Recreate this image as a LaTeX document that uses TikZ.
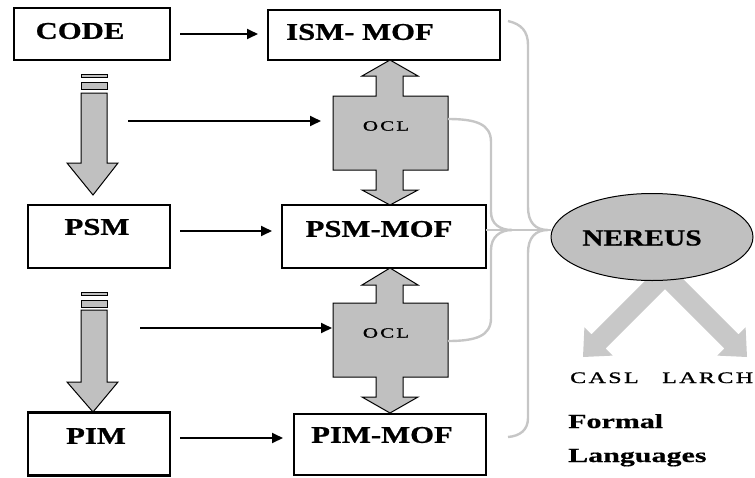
\documentclass[tikz,border=0pt]{standalone}
\usepackage{fontspec}
\setmainfont{Liberation Serif}
\newfontfamily\lblfont[FakeStretch=1.28,FakeBold=0.8]{Liberation Serif}
\newfontfamily\frmfont[FakeStretch=1.5,FakeBold=0.6]{Liberation Serif}
\newfontfamily\smfont[FakeStretch=1.5,LetterSpace=15,FakeBold=1.2]{Liberation Serif}
\usetikzlibrary{arrows.meta,shapes.geometric}
\definecolor{blockgray}{HTML}{C0C0C0}
\definecolor{linegray}{HTML}{C6C6C6}
\definecolor{arrgray}{HTML}{C8C8C8}
\tikzset{
  thickbox/.style={draw=black,line width=2.2pt,minimum width=#1,inner sep=0pt,outer sep=0pt},
  thinbox/.style={draw=black,line width=1.2pt,minimum width=#1,inner sep=0pt,outer sep=0pt},
  lbl/.style={inner sep=0pt,font=\lblfont\bfseries\fontsize{24}{28}\selectfont},
  ocltxt/.style={inner sep=0pt,font=\smfont\fontsize{14}{16}\selectfont},
  smtxt/.style={inner sep=0pt,anchor=base west,font=\smfont\fontsize{16}{18}\selectfont},
  frmtxt/.style={inner sep=0pt,anchor=base west,font=\frmfont\bfseries\fontsize{20}{24}\selectfont},
  blkarrow/.style={-{Triangle[length=11pt,width=10pt]},line width=1.8pt,draw=black},
  graycon/.style={draw=linegray,line width=2.4pt},
  blockshape/.style={fill=blockgray,draw=black,line width=1pt,line join=miter},
  lightarrow/.style={fill=arrgray,draw=none}
}
\begin{document}
\begin{tikzpicture}[x=1pt,y=-1pt]
\useasboundingbox (0,0) rectangle (755,477);

% boxes
\node[thickbox=156pt,minimum height=52pt] (code) at (92,34) {};
\node[thinbox=232pt,minimum height=50pt] (ism) at (384,35) {};
\node[thickbox=142pt,minimum height=63pt] (psm) at (99,236.5) {};
\node[thinbox=204pt,minimum height=63pt] (psmmof) at (384,236.5) {};
\node[thickbox=142pt,minimum height=63pt] (pim) at (99,444) {};
\node[thinbox=192pt,minimum height=61pt] (pimmof) at (390,444.5) {};

\node[lbl] (codetxt) at (80,31) {CODE};
\node[lbl] (ismtxt) at (360,32) {ISM- MOF};
\node[lbl] (psmtxt) at (97,227) {PSM};
\node[lbl] (psmmoftxt) at (379,229) {PSM-MOF};
\node[lbl] (pimtxt) at (96,436) {PIM};
\node[lbl] (pimmoftxt) at (382,435) {PIM-MOF};

% horizontal black arrows
\draw[blkarrow,shorten <=10pt,shorten >=10pt] (code.east) -- (code.east -| ism.west);
\draw[blkarrow,shorten <=10pt,shorten >=10pt] ([yshift=5.5pt]psm.east) -- ([yshift=5.5pt]psm.east -| psmmof.west);
\draw[blkarrow,shorten <=10pt,shorten >=11pt] ([yshift=6pt]pim.east) -- ([yshift=6pt]pim.east -| pimmof.west);

% down block arrows
\draw[blockshape] (81,74) rectangle (107,77.5);
\draw[blockshape] (81,82) rectangle (107,89);
\draw[blockshape] (81,93) -- (107,93) -- (107,163) -- (118,163) -- (93,195) -- (67,163) -- (81,163) -- cycle;
\draw[blockshape] (81,292) rectangle (107,295.5);
\draw[blockshape] (81,300) rectangle (107,307);
\draw[blockshape] (81,310) -- (107,310) -- (107,382) -- (118,382) -- (93,412) -- (67,382) -- (81,382) -- cycle;

% OCL double arrows
\draw[blockshape] (390,60) -- (418,76) -- (403,76) -- (403,96) -- (448,96) -- (448,170) -- (403,170) -- (403,190) -- (418,190) -- (390,205) -- (362,190) -- (376,190) -- (376,170) -- (333,170) -- (333,96) -- (376,96) -- (376,76) -- (362,76) -- cycle;
\draw[blockshape] (390,268) -- (418,285) -- (403,285) -- (403,303) -- (448,303) -- (448,377) -- (403,377) -- (403,397) -- (418,397) -- (390,413) -- (362,397) -- (376,397) -- (376,377) -- (333,377) -- (333,303) -- (376,303) -- (376,285) -- (362,285) -- cycle;
\node[ocltxt] (ocl1) at (386,126) {OCL};
\node[ocltxt] (ocl2) at (386,333) {OCL};

% arrows into OCL
\coordinate (in1) at (128,121);
\coordinate (o1w) at (333,121);
\coordinate (in2) at (140,328);
\coordinate (o2w) at (333,328);
\draw[blkarrow,shorten >=12pt] (in1) -- (o1w);
\draw[blkarrow,shorten >=1pt] (in2) -- (o2w);

% light gray arrows from NEREUS
\fill[lightarrow] (657.9,267.9) -- (591.5,334.4) -- (584.4,327.3) -- (583,357) -- (612.7,355.6) -- (605.6,348.5) -- (672.1,282.1) -- cycle;
\fill[lightarrow] (672.1,267.9) -- (738.5,334.4) -- (745.6,327.3) -- (747,357) -- (717.3,355.6) -- (724.4,348.5) -- (657.9,282.1) -- cycle;

% NEREUS
\node[ellipse,draw=black,line width=1pt,fill=blockgray,minimum width=202pt,minimum height=87pt,inner sep=0pt] (nereus) at (652,237) {};
\node[lbl,font=\lblfont\bfseries\fontsize{23}{27}\selectfont] (nereustxt) at (642,238) {NEREUS};

% gray connectors
\coordinate (join) at (512,230);
\coordinate (bracetip) at (548,230);
\coordinate (ocl1r) at (448,119);
\coordinate (ocl2r) at (448,341);
\coordinate (bracetop) at (508,21);
\coordinate (bracebot) at (508,437);
\draw[graycon] (ocl1r) .. controls (476,119) and (491,124) .. (491,142) -- (491,212) .. controls (491,224) and (500,230) .. (join);
\draw[graycon] (ocl2r) .. controls (476,341) and (491,336) .. (491,318) -- (491,250) .. controls (491,237) and (500,230) .. (join);
\draw[graycon] (psmmof.east |- join) -- (nereus.west |- join);
\draw[graycon] (bracetop) .. controls (521,24) and (528,31) .. (528,45) -- (528,207) .. controls (528,222) and (535,230) .. (bracetip)
   .. controls (535,230) and (528,238) .. (528,253) -- (528,418) .. controls (528,430) and (520,436) .. (bracebot);

% bottom right texts
\node[smtxt] (casl) at (570,383) {CASL};
\node[smtxt] (larch) at (662,383) {LARCH};
\node[frmtxt] (formal) at (568,428) {Formal};
\node[frmtxt] (lang) at (568,462) {Languages};
\end{tikzpicture}
\end{document}
